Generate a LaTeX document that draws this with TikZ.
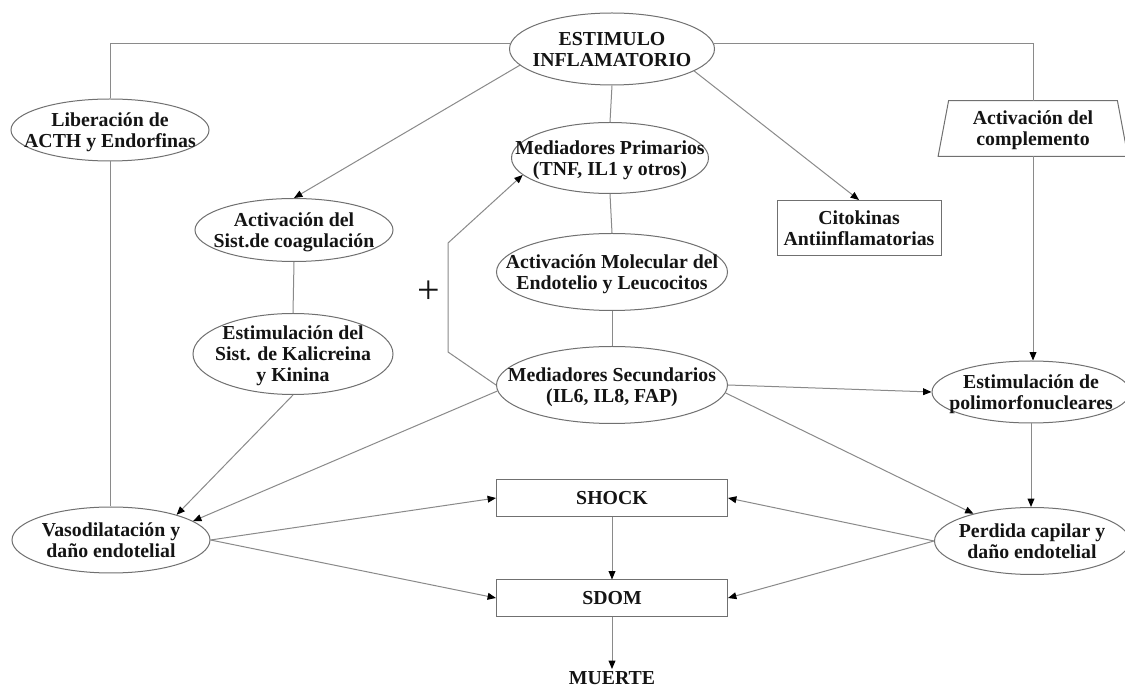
\documentclass[tikz,border=0pt]{standalone}
\usepackage{fontspec}
\setmainfont{Liberation Serif}
\usetikzlibrary{shapes.geometric,arrows.meta}
\newcommand{\ellT}[1]{\smash{\makebox[0pt]{\raisebox{-0.37em}{\begin{tabular}{@{}c@{}}#1\end{tabular}}}}}
\definecolor{linec}{HTML}{8A8A8A}
\definecolor{ellc}{HTML}{707070}
\definecolor{txtc}{HTML}{141414}
\tikzset{
  lbl/.style={font=\bfseries\fontsize{9.9}{10.5}\selectfont, text=txtc},
  ell/.style 2 args={lbl, draw=ellc, line width=0.5pt, ellipse, inner sep=0pt,
      minimum width=#1*0.5pt, minimum height=#2*0.5pt},
  boxn/.style 2 args={lbl, draw=ellc, line width=0.5pt, rectangle, inner sep=0pt,
      minimum width=#1*0.5pt, minimum height=#2*0.5pt},
  ln/.style={draw=linec, line width=0.5pt},
  arr/.style={ln, -{Triangle[length=4.2pt,width=3.4pt,color=black]}}
}
\begin{document}
\begin{tikzpicture}[x=0.5pt,y=-0.5pt]
\useasboundingbox[fill=white] (0,0) rectangle (1125,689);

% nodes
\node[ell={205}{72}] (E) at (612,49) {\ellT{ESTIMULO\\INFLAMATORIO}};
\node[ell={198}{62}] (Lib) at (110,130) {\ellT{Liberación de\\ACTH y Endorfinas}};
\node[ell={198}{63}] (Coag) at (294,230) {\ellT{Activación del\\Sist.de coagulación}};
\node[ell={200}{81}] (Kal) at (293,354) {\ellT{Estimulación del\\Sist. de Kalicreina\\y Kinina}};
\node[ell={197}{71}] (MP) at (610,158) {\ellT{Mediadores Primarios\\(TNF, IL1 y otros)}};
\node[ell={231}{77}] (AM) at (612,272) {\ellT{Activación Molecular del\\Endotelio y Leucocitos}};
\node[ell={231}{77}] (MS) at (612,385) {\ellT{Mediadores Secundarios\\(IL6, IL8, FAP)}};
\node[boxn={164}{55}] (Cito) at (859,228) {\ellT{Citokinas\\Antiinflamatorias}};
\node[lbl, rectangle, inner sep=0pt, minimum width=168*0.5pt, minimum height=55*0.5pt] (Comp) at (1033,128.5) {\ellT{Activación del\\complemento}};
\draw[draw=ellc, line width=0.5pt] (Comp.north west) -- (Comp.north east)
  -- ([xshift=10.5*0.5pt]Comp.south east) -- ([xshift=-10.5*0.5pt]Comp.south west) -- cycle;
\node[ell={198}{62}] (Poli) at (1031,392) {\ellT{Estimulación de\\polimorfonucleares}};
\node[ell={198}{66}] (Vaso) at (111,540) {\ellT{Vasodilatación y\\daño endotelial}};
\node[ell={195}{67}] (Perd) at (1032,541) {\ellT{Perdida capilar y\\daño endotelial}};
\node[boxn={231}{37}] (SHOCK) at (612,498) {SHOCK};
\node[boxn={231}{36}] (SDOM) at (612,598) {SDOM};
\node[lbl, inner sep=1pt] (MUERTE) at (612,678) {MUERTE};
\node[text=txtc, font=\fontsize{20}{20}\selectfont, inner sep=0pt] (plus) at (429,292) {+};

% coordinates for the feedback path
\coordinate (pb) at (448,352);
\coordinate (pt) at (448,243);

% connectors
\draw[ln] (E.177) -| (Lib.north);
\draw[ln] (Lib.south) -- (Lib.south |- Vaso.north);
\draw[ln] (E.3) -| (Comp.north);
\draw[arr] (Comp.south) -- (Comp.south |- Poli.north);
\draw[arr] (Poli.south) -- (Poli.south |- Perd.north);
\draw[arr] (E.190) -- (Coag.north);
\draw[arr] (E.345) -- (Cito.north);
\draw[ln] (E.south) -- (MP.north);
\draw[ln] (MP.south) -- (AM.north);
\draw[ln] (AM.south) -- (MS.north);
\draw[ln] (Coag.south) -- (Kal.north);
\draw[arr] (Kal.south) -- (Vaso.21);
\draw[arr] (MS.183) -- (Vaso.13);
\draw[arr] (MS.west) -- (pb) -- (pt) -- (MP.191);
\draw[arr] (MS.east) -- (Poli.west);
\draw[arr] (MS.356) -- (Perd.155);
\draw[arr] (Vaso.east) -- (SHOCK.west);
\draw[arr] (Vaso.east) -- (SDOM.west);
\draw[arr] (Perd.west) -- (SHOCK.east);
\draw[arr] (Perd.west) -- (SDOM.east);
\draw[arr] (SHOCK.south) -- (SDOM.north);
\draw[arr] (SDOM.south) -- (MUERTE.north);
\end{tikzpicture}
\end{document}
